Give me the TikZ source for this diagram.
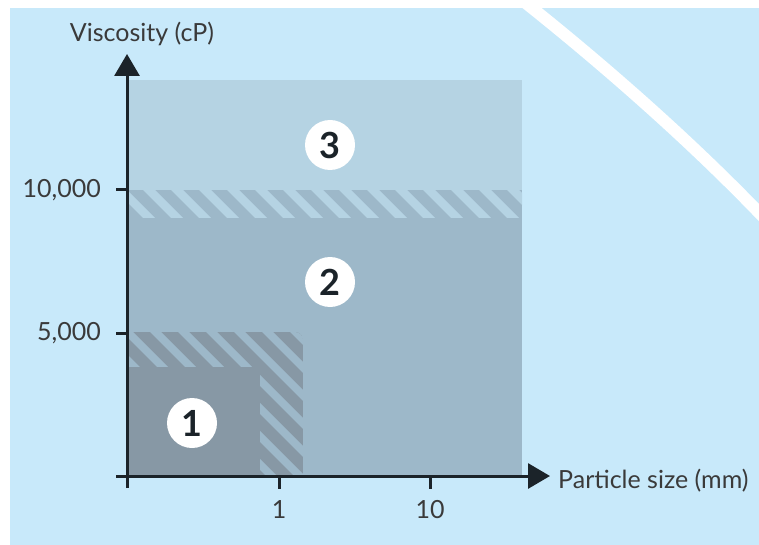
\documentclass[tikz,border=0pt]{standalone}
\usepackage{fontspec}
\setmainfont{Lato}
\usetikzlibrary{arrows.meta}
\definecolor{bgblue}{HTML}{C8E9FA}
\definecolor{zonethree}{HTML}{B5D3E3}
\definecolor{zonetwo}{HTML}{9DB8C9}
\definecolor{zoneone}{HTML}{8798A5}
\definecolor{axisdark}{HTML}{1B2329}
\definecolor{labelgrey}{HTML}{3A3A3A}

\begin{document}
\begin{tikzpicture}[x=1pt, y=-1pt,
		zonelabel/.style={circle, fill=white, minimum size=50pt, inner sep=0pt, text=axisdark, font=\fontsize{36}{36}\selectfont\bfseries},
		axislabel/.style={text=labelgrey, inner sep=0pt, font=\fontsize{25}{25}\selectfont},
		axisline/.style={axisdark, line width=3pt},
		bigtip/.style={-{Triangle[length=22pt, width=25pt]}}]
		\useasboundingbox (0,0) rectangle (759,545);
		\fill[white] (0,0) rectangle (759,545);
		\fill[bgblue] (10,8) rectangle (759,545);
		\draw[white, line width=12pt] (522,0) .. controls (600,62) and (690,140) .. (768,222);
		% zones
		\fill[zonethree] (127,80) rectangle (522,476);
		\fill[zonetwo] (127,190) rectangle (522,476);
		\begin{scope}
			\clip (127,190) rectangle (522,217);
			\foreach \k in {-3,...,15}
				\fill[zonethree] (-47+28*\k,0) -- ++(12,0) -- ++(600,600) -- ++(-12,0) -- cycle;
		\end{scope}
		\begin{scope}
			\clip (127,476) -- (127,332) [rounded corners=8pt] -- (303,332) [sharp corners] -- (303,476) -- cycle;
			\fill[zoneone] (127,332) rectangle (303,476);
			\foreach \k in {-8,...,7}
				\fill[zonetwo] (-182+28*\k,0) -- ++(11,0) -- ++(600,600) -- ++(-11,0) -- cycle;
		\end{scope}
		\fill[zoneone] (127,367) rectangle (260,476);
		% axes
		\coordinate (yfoot) at (127,488);
		\coordinate (ytip) at (127,54);
		\coordinate (xfoot) at (116,476);
		\coordinate (xtip) at (550,476);
		\draw[axisline, bigtip] (yfoot) -- (ytip);
		\draw[axisline, bigtip] (xfoot) -- (xtip);
		\foreach \y/\txt in {190/{10,000}, 333/{5,000}} {
			\draw[axisline] (116,\y) -- (127,\y);
			\node[axislabel, anchor=east] (ytick\y) at (101,\y) {\txt};
		}
		\foreach \x/\txt in {279/1, 430/10} {
			\draw[axisline] (\x,476) -- (\x,489);
			\node[axislabel] (xtick\x) at (\x,510) {\txt};
		}
		\node[axislabel] (ytitle) at (142,34) {Viscosity (cP)};
		\node[axislabel, anchor=west] (xtitle) at (558,481) {Particle size (mm)};
		% zone numbers
		\node[zonelabel] (zthree) at (330,145) {3};
		\node[zonelabel] (ztwo) at (330,282) {2};
		\node[zonelabel] (zone) at (192,423) {1};
	\end{tikzpicture}
\end{document}
